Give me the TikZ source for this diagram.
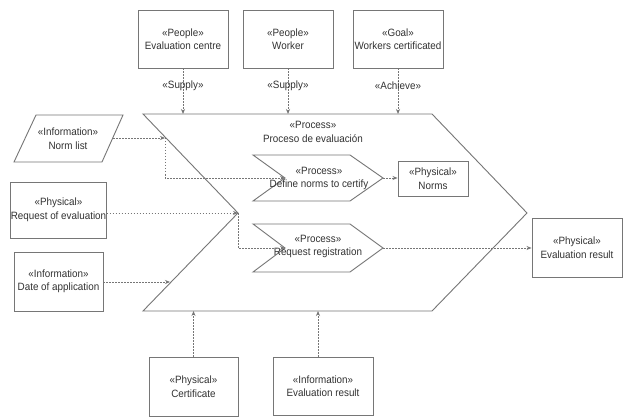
\documentclass[tikz,border=0pt]{standalone}
\usepackage{fontspec}
\setmainfont[FakeStretch=0.93]{Liberation Sans}
\usetikzlibrary{arrows.meta}
\definecolor{edge}{RGB}{118,118,118}
\definecolor{ink}{RGB}{50,50,50}
\tikzset{
  lbl/.style={text=ink, font=\fontsize{10.6}{13.5}\selectfont, align=center, inner sep=0pt},
  box/.style={lbl, draw=edge, line width=0.9pt, minimum width=#1},
  box/.default=90pt,
  outline/.style={draw=edge, line width=0.9pt, line join=miter},
  flow/.style={draw=edge, line width=0.9pt, dash pattern=on 1.5pt off 1.5pt,
    -{Stealth[length=5pt,width=4pt]}},
}
\begin{document}
\begin{tikzpicture}[x=1pt,y=-1pt]
\fill[white] (0,0) rectangle (624,417);
\useasboundingbox (0,0) rectangle (624,417);

% top resources
\node[box, minimum height=58pt] (ec) at (183,39) {«People»\\Evaluation centre};
\node[box, minimum height=58pt] (wk) at (288,39) {«People»\\Worker};
\node[box, minimum height=58pt] (gl) at (398,39) {«Goal»\\Workers certificated};

% main process outline
\coordinate (pTL) at (143,114);
\coordinate (pTR) at (432,114);
\coordinate (pTip) at (527,213);
\coordinate (pBR) at (432,311);
\coordinate (pBL) at (143,311);
\coordinate (pNotch) at (238,213);
\draw[outline] (pTL) -- (pTR) -- (pTip) -- (pBR) -- (pBL) -- (pNotch) -- cycle;
\node[lbl] (ptitle) at (313,132) {«Process»\\Proceso de evaluación};

% sub-process: define norms
\coordinate (dnA) at (253,155);
\coordinate (dnB) at (350,155);
\coordinate (dnTip) at (383,178);
\coordinate (dnC) at (350,201);
\coordinate (dnD) at (253,201);
\coordinate (dnNotch) at (285,178);
\draw[outline] (dnA) -- (dnB) -- (dnTip) -- (dnC) -- (dnD) -- (dnNotch) -- cycle;
\node[lbl] (dn) at (319,178.5) {«Process»\\Define norms to certify};

% sub-process: request registration
\coordinate (rrA) at (253,224);
\coordinate (rrB) at (350,224);
\coordinate (rrTip) at (383,248);
\coordinate (rrC) at (350,272);
\coordinate (rrD) at (253,272);
\coordinate (rrNotch) at (285,248);
\draw[outline] (rrA) -- (rrB) -- (rrTip) -- (rrC) -- (rrD) -- (rrNotch) -- cycle;
\node[lbl] (rr) at (318,246.5) {«Process»\\Request registration};

% outputs
\node[box=70pt, minimum height=35pt] (nm) at (433,178.5) {«Physical»\\Norms};
\node[box, minimum height=59pt] (er) at (577,247.5) {«Physical»\\Evaluation result};

% inputs
\draw[outline] (36,115) -- (123,115) -- (102,162) -- (14,162) -- cycle;
\node[lbl] (nl) at (68,138.5) {«Information»\\Norm list};
\coordinate (nlR) at (113,138);
\node[box=89pt, minimum height=56pt] (re) at (58.5,210) {«Physical»\\Request of evaluation};
\node[box=89pt, minimum height=59pt] (da) at (58.5,281.5) {«Information»\\Date of application};

% bottom resources
\node[box=89pt, minimum height=59pt] (ce) at (193.5,386.5) {«Physical»\\Certificate};
\node[box=100pt, minimum height=58pt] (ev) at (323,386) {«Information»\\Evaluation result};

% connection points on the process outline
\coordinate (pIn1) at (165,138);
\coordinate (pIn3) at (170,282);

% top flows
\draw[flow] (ec.south) -- node[lbl, pos=0.37] {«Supply»} (ec.south |- pTL);
\draw[flow] (wk.south) -- node[lbl, pos=0.37] {«Supply»} (wk.south |- pTL);
\draw[flow] (gl.south) -- node[lbl, pos=0.37] {«Achieve»} (gl.south |- pTL);

% input flows
\draw[flow] (nlR) -- (pIn1);
\draw[flow] (pIn1) |- (dnNotch);
\draw[flow] (pNotch -| re.east) -- (pNotch);
\draw[flow] (pNotch) |- (rrNotch);
\draw[flow] (pIn3 -| da.east) -- (pIn3);

% output flows
\draw[flow] (dnTip) -- (dnTip -| nm.west);
\draw[flow] (rrTip) -- (rrTip -| er.west);

% bottom flows
\draw[flow] (ce.north) -- (ce.north |- pBL);
\draw[flow] ([xshift=-5pt]ev.north) -- ([xshift=-5pt]ev.north |- pBL);
\end{tikzpicture}
\end{document}
